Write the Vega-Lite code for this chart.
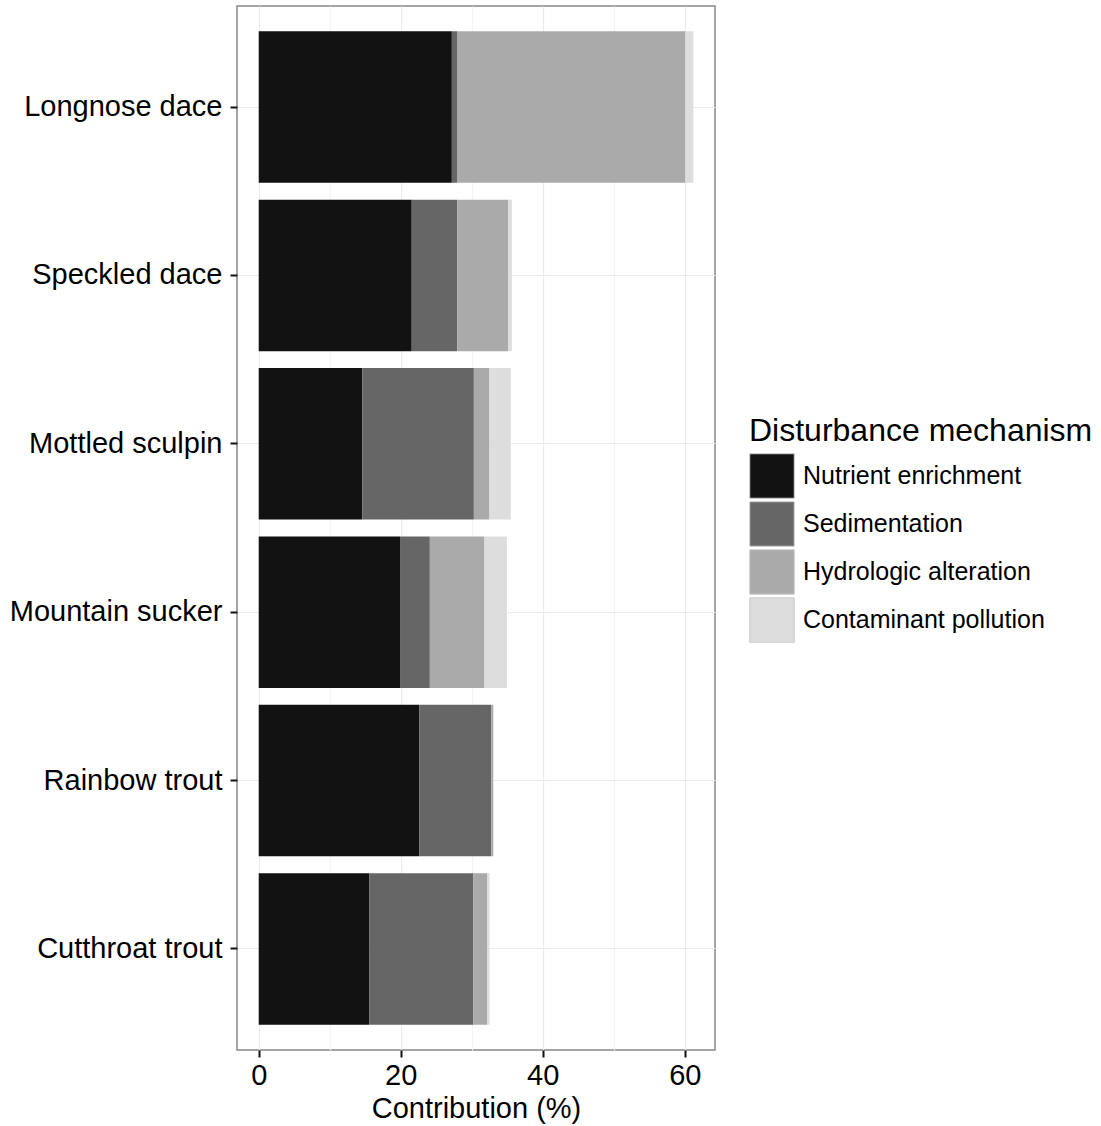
{
  "$schema": "https://vega.github.io/schema/vega-lite/v6.json",
  "width": 478,
  "height": 1044,
  "autosize": "none",
  "padding": {"left": 237, "top": 6, "right": 386, "bottom": 76},
  "background": "white",
  "config": {
    "font": "Liberation Sans",
    "view": {"stroke": "#888888", "strokeWidth": 1.5},
    "axis": {"labelColor": "#000000", "titleColor": "#000000", "titleFontWeight": "normal", "domain": false, "tickColor": "#111111", "tickWidth": 2, "tickSize": 7, "gridColor": "#ebebeb", "gridWidth": 1.2, "labelLimit": 0}
  },
  "data": {
    "values": [
      {"species": "Longnose dace", "mechanism": "Nutrient enrichment", "ord": 1, "value": 27.2},
      {"species": "Longnose dace", "mechanism": "Sedimentation", "ord": 2, "value": 0.8},
      {"species": "Longnose dace", "mechanism": "Hydrologic alteration", "ord": 3, "value": 32.1},
      {"species": "Longnose dace", "mechanism": "Contaminant pollution", "ord": 4, "value": 1.1},
      {"species": "Speckled dace", "mechanism": "Nutrient enrichment", "ord": 1, "value": 21.55},
      {"species": "Speckled dace", "mechanism": "Sedimentation", "ord": 2, "value": 6.4},
      {"species": "Speckled dace", "mechanism": "Hydrologic alteration", "ord": 3, "value": 7.2},
      {"species": "Speckled dace", "mechanism": "Contaminant pollution", "ord": 4, "value": 0.5},
      {"species": "Mottled sculpin", "mechanism": "Nutrient enrichment", "ord": 1, "value": 14.6},
      {"species": "Mottled sculpin", "mechanism": "Sedimentation", "ord": 2, "value": 15.7},
      {"species": "Mottled sculpin", "mechanism": "Hydrologic alteration", "ord": 3, "value": 2.2},
      {"species": "Mottled sculpin", "mechanism": "Contaminant pollution", "ord": 4, "value": 3.0},
      {"species": "Mountain sucker", "mechanism": "Nutrient enrichment", "ord": 1, "value": 19.9},
      {"species": "Mountain sucker", "mechanism": "Sedimentation", "ord": 2, "value": 4.2},
      {"species": "Mountain sucker", "mechanism": "Hydrologic alteration", "ord": 3, "value": 7.7},
      {"species": "Mountain sucker", "mechanism": "Contaminant pollution", "ord": 4, "value": 3.15},
      {"species": "Rainbow trout", "mechanism": "Nutrient enrichment", "ord": 1, "value": 22.6},
      {"species": "Rainbow trout", "mechanism": "Sedimentation", "ord": 2, "value": 10.15},
      {"species": "Rainbow trout", "mechanism": "Hydrologic alteration", "ord": 3, "value": 0.25},
      {"species": "Rainbow trout", "mechanism": "Contaminant pollution", "ord": 4, "value": 0.1},
      {"species": "Cutthroat trout", "mechanism": "Nutrient enrichment", "ord": 1, "value": 15.55},
      {"species": "Cutthroat trout", "mechanism": "Sedimentation", "ord": 2, "value": 14.65},
      {"species": "Cutthroat trout", "mechanism": "Hydrologic alteration", "ord": 3, "value": 2.0},
      {"species": "Cutthroat trout", "mechanism": "Contaminant pollution", "ord": 4, "value": 0.3}
    ]
  },
  "mark": {"type": "bar"},
  "encoding": {
    "y": {
      "field": "species",
      "type": "nominal",
      "sort": ["Longnose dace", "Speckled dace", "Mottled sculpin", "Mountain sucker", "Rainbow trout", "Cutthroat trout"],
      "title": null,
      "scale": {"paddingInner": 0.1, "paddingOuter": 0.15},
      "axis": {"labelFontSize": 29, "labelPadding": 8, "bandPosition": 0.5, "grid": true}
    },
    "x": {
      "field": "value",
      "type": "quantitative",
      "stack": "zero",
      "title": "Contribution (%)",
      "scale": {"domain": [-3.06, 64.26], "nice": false, "zero": false},
      "axis": {
        "values": [0, 10, 20, 30, 40, 50, 60],
        "labelExpr": "datum.value % 20 === 0 ? datum.label : ''",
        "tickOpacity": {"condition": {"test": "datum.value % 20 !== 0", "value": 0}, "value": 1},
        "gridColor": {"condition": {"test": "datum.value % 20 !== 0", "value": "#f4f4f4"}, "value": "#ebebeb"},
        "labelFontSize": 29,
        "titleFontSize": 29,
        "labelPadding": 4,
        "titlePadding": 4
      }
    },
    "order": {"field": "ord", "type": "quantitative"},
    "color": {
      "field": "mechanism",
      "type": "nominal",
      "title": "Disturbance mechanism",
      "scale": {
        "domain": ["Nutrient enrichment", "Sedimentation", "Hydrologic alteration", "Contaminant pollution"],
        "range": ["#121212", "#666666", "#aaaaaa", "#dddddd"]
      },
      "legend": {
        "orient": "none",
        "legendX": 512,
        "legendY": 410,
        "titleFontSize": 32,
        "titleFontWeight": "normal",
        "titleColor": "#000000",
        "titlePadding": 5,
        "titleLimit": 0,
        "labelFontSize": 25,
        "labelColor": "#000000",
        "labelLimit": 0,
        "labelOffset": 8,
        "symbolType": "square",
        "symbolSize": 1980,
        "symbolStrokeColor": "#cccccc",
        "symbolStrokeWidth": 1,
        "symbolOpacity": 1,
        "rowPadding": -3
      }
    }
  }
}
